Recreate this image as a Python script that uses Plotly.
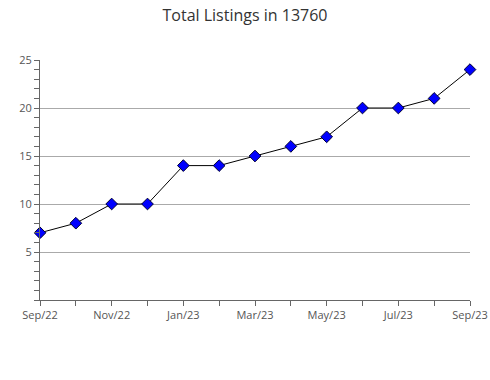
import plotly.graph_objects as go

months = ["Sep/22", "Oct/22", "Nov/22", "Dec/22", "Jan/23", "Feb/23", "Mar/23",
          "Apr/23", "May/23", "Jun/23", "Jul/23", "Aug/23", "Sep/23"]
listings = [7, 8, 10, 10, 14, 14, 15, 16, 17, 20, 20, 21, 24]
y_ticks = [5, 10, 15, 20, 25]

x_idx = list(range(len(months)))
tick_text = [m if i % 2 == 0 else "" for i, m in enumerate(months)]

fig = go.Figure()
fig.add_trace(go.Scatter(
    x=x_idx, y=listings, mode="lines+markers",
    line=dict(color="black", width=1),
    marker=dict(symbol="diamond", size=9, color="#0000ff",
                line=dict(color="#000033", width=1)),
    cliponaxis=False, hoverinfo="skip",
))

fig.update_layout(
    width=490, height=380,
    margin=dict(l=40, r=20, t=60, b=80),
    paper_bgcolor="white", plot_bgcolor="white",
    showlegend=False,
    font=dict(family="Open Sans", color="#555555", size=11),
    title=dict(text="Total Listings in 13760", x=0.5, xanchor="center",
               y=0.96, yanchor="middle",
               font=dict(family="Open Sans", size=16, color="#333333")),
)
fig.update_xaxes(
    range=[0, 12], tickmode="array", tickvals=x_idx, ticktext=tick_text,
    automargin=False,
    showgrid=False, zeroline=False, showline=True, linecolor="#666666", linewidth=1,
    ticks="outside", ticklen=5, tickcolor="#666666", tickangle=0,
)
fig.update_yaxes(
    range=[0, 25], tickmode="array", tickvals=y_ticks, automargin=False,
    showgrid=True, gridcolor="#aaaaaa", gridwidth=1, zeroline=False,
    showline=True, linecolor="#666666", linewidth=1,
    ticks="outside", ticklen=5, tickcolor="#666666",
    minor=dict(dtick=1, ticks="outside", ticklen=5, tickcolor="#666666", showgrid=False),
)

fig.write_html("out.html")
